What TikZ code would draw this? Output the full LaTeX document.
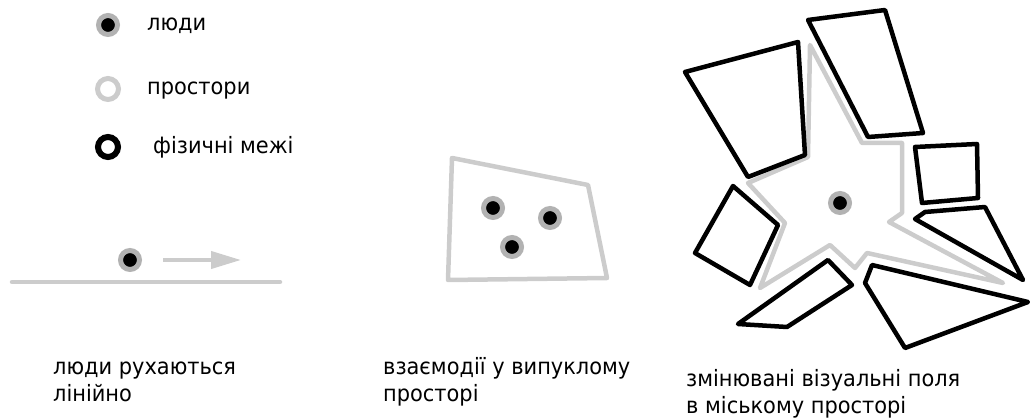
\documentclass[tikz,border=0pt]{standalone}
\usepackage{fontspec}
\setmainfont[FakeStretch=0.93]{DejaVu Sans}
\usetikzlibrary{arrows.meta,positioning}
\tikzset{
  person/.style={circle,fill=black,draw=gray!60,line width=5pt,minimum size=19pt,inner sep=0pt},
  spcring/.style={circle,draw=gray!40,line width=5pt,minimum size=21pt,inner sep=0pt},
  wallring/.style={circle,draw=black,line width=6pt,minimum size=20pt,inner sep=0pt},
  space/.style={draw=gray!40,line width=4.5pt,line join=round,line cap=round},
  wall/.style={draw=black,line width=4.5pt,line join=round},
  mvarr/.style={-{Triangle[length=30pt,width=17pt]},draw=gray!40,fill=gray!40,line width=4pt},
  lbl/.style={anchor=base west,align=left,inner sep=0pt,font=\fontsize{22.5}{27}\selectfont}
}
\begin{document}
\begin{tikzpicture}[x=1pt,y=-1pt]
  \useasboundingbox (0,0) rectangle (1030,419);

  % Legend
  \node[person] (lgpers) at (108,25) {};
  \node[spcring] (lgspc) at (108,89) {};
  \node[wallring] (lgwall) at (108,147) {};
  \node[lbl] (lgperstxt) at (147,31) {люди};
  \node[lbl] (lgspctxt) at (147,95) {простори};
  \node[lbl] (lgwalltxt) at (153,154) {фізичні межі};

  % Linear movement
  \coordinate (gndl) at (12,282);
  \coordinate (gndr) at (280,282);
  \draw[space] (gndl) -- (gndr);
  \node[person] (walker) at (130,260) {};
  \coordinate (mvend) at (241,260);
  \draw[mvarr] ([xshift=33pt]walker.center) -- (mvend);
  \node[lbl] (linetxt) at (53,401) {люди рухаються\\лінійно};

  % Convex space
  \draw[space] (452,158) -- (588,185) -- (607,278) -- (448,280) -- cycle;
  \node[person] (pa) at (493,208) {};
  \node[person] (pb) at (550,218) {};
  \node[person] (pc) at (512,247) {};
  \node[lbl] (convtxt) at (383,401) {взаємодії у випуклому\\просторі};

  % Urban visual field
  \draw[space] (810,45) -- (862,143) -- (902,143) -- (902,213) -- (889,222)
    -- (1003,283) -- (867,253) -- (855,268) -- (830,245) -- (760,288)
    -- (785,223) -- (748,183) -- (808,157) -- cycle;
  \draw[wall] (685,72) -- (798,42) -- (805,155) -- (748,177) -- cycle;
  \draw[wall] (808,20) -- (885,10) -- (923,133) -- (868,137) -- cycle;
  \draw[wall] (915,147) -- (977,144) -- (978,198) -- (922,203) -- cycle;
  \draw[wall] (915,219) -- (925,212) -- (985,207) -- (1023,280) -- cycle;
  \draw[wall] (872,265) -- (1028,302) -- (905,348) -- (865,283) -- cycle;
  \draw[wall] (828,260) -- (852,285) -- (787,327) -- (738,324) -- cycle;
  \draw[wall] (733,186) -- (778,225) -- (750,285) -- (695,253) -- cycle;
  \node[person] (viewer) at (840,203) {};
  \node[lbl] (urbtxt) at (686,413) {змінювані візуальні поля\\в міському просторі};
\end{tikzpicture}
\end{document}
